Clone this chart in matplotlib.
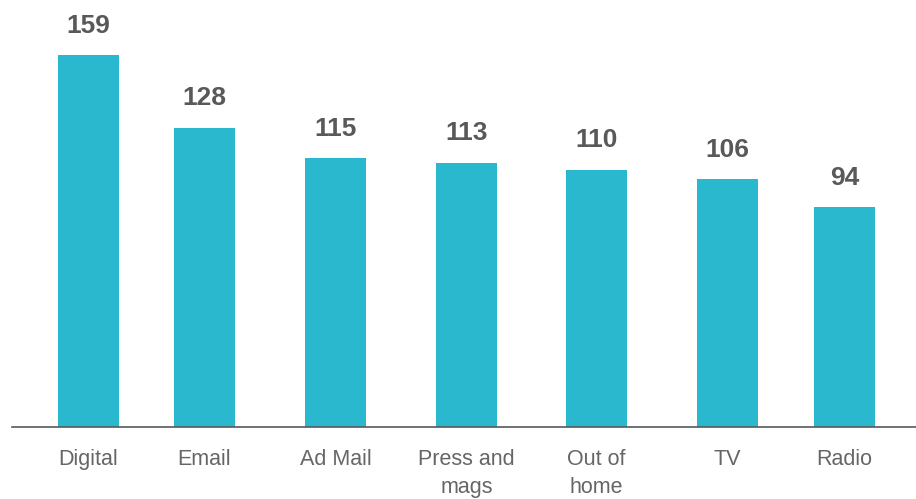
import numpy as np
from matplotlib import pyplot as plt

plt.rcParams.update({
    "font.family": ['Liberation Sans', 'DejaVu Sans'],
})

channels = ["Digital", "Email", "Ad Mail", "Press and\nmags", "Out of\nhome", "TV", "Radio"]
scores = [159, 128, 115, 113, 110, 106, 94]

# bar centres along the axis (the gaps are not quite even)
centres = [88.5, 204.5, 335.5, 466.5, 596.5, 727.5, 844.5]
bar_w = 61

fig = plt.figure(figsize=(9.16, 4.99), dpi=100)
ax = fig.add_axes([12 / 916, 72 / 499, 904 / 916, 372 / 499])

ax.bar(centres, scores, width=bar_w, color='#29B8CE', clip_on=False)

for x, v in zip(centres, scores):
    ax.annotate(str(v), (x, v), xytext=(0, 12.5), textcoords='offset points',
                ha='center', va='bottom', fontsize=19, fontweight='bold',
                color='#595959', annotation_clip=False)

ax.set_xlim(12, 916)
ax.set_ylim(0, 159)

ax.set_xticks(centres)
ax.set_xticklabels(channels, fontsize=15.5, color='#666666', linespacing=1.45)
ax.tick_params(axis='x', length=0, pad=16)
ax.set_yticks([])

for side in ['top', 'left', 'right']:
    ax.spines[side].set_visible(False)
ax.spines['bottom'].set_color('#595959')
ax.spines['bottom'].set_linewidth(1.2)

fig.savefig('out.png', dpi=100)
